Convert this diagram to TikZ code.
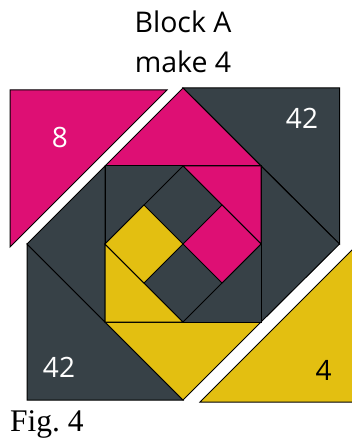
\documentclass[tikz,border=0pt]{standalone}
\usepackage{fontspec}
\setmainfont{Open Sans}
\newfontfamily\figfont{Liberation Serif}
\definecolor{quiltdark}{HTML}{374147}
\definecolor{quiltpink}{HTML}{DE0F74}
\definecolor{quiltgold}{HTML}{E3BF11}
\tikzset{
  patch/.style={draw=black,line width=1pt,line join=miter},
  dark/.style={patch,fill=quiltdark},
  pink/.style={patch,fill=quiltpink},
  gold/.style={patch,fill=quiltgold},
  title/.style={font=\fontsize{28.5}{28.5}\selectfont,text=black,inner sep=0pt,anchor=base},
  count/.style={font=\fontsize{28}{28}\selectfont,inner sep=0pt,anchor=base},
}
\begin{document}
\begin{tikzpicture}[x=1pt,y=-1pt]
\useasboundingbox (0,0) rectangle (352,438);
\clip (0,0) rectangle (352,438);
% loose corner triangles
\draw[pink] (10,90) -- (167,90) -- (10,247) -- cycle;
\draw[gold] (200,402) -- (358,402) -- (358,244) -- cycle;
% large corners
\draw[dark] (183,88) -- (339.5,88) -- (339.5,244) -- cycle;
\draw[dark] (27,244) -- (27,400) -- (183,400) -- cycle;
% side triangles
\draw[dark] (27,244) -- (105,166) -- (105,322) -- cycle;
\draw[dark] (339.5,244) -- (261,322) -- (261,166) -- cycle;
\draw[pink] (105,166) -- (183,88) -- (261,166) -- cycle;
\draw[gold] (105,322) -- (261,322) -- (183,400) -- cycle;
% centre square
\draw[dark] (105,166) rectangle (261,322);
\draw[pink] (183,166) -- (261,166) -- (261,244) -- cycle;
\draw[gold] (105,244) -- (183,322) -- (105,322) -- cycle;
% inner diamond
\draw[dark] (183,166) -- (261,244) -- (183,322) -- (105,244) -- cycle;
\draw[gold] (105,244) -- (144,205) -- (183,244) -- (144,283) -- cycle;
\draw[pink] (183,244) -- (222,205) -- (261,244) -- (222,283) -- cycle;
% labels
\node[title] (titleA) at (183,33) {Block A};
\node[title] (titleB) at (183,72.5) {make 4};
\node[count,text=white] (n8) at (60,148) {8};
\node[count,text=white] (n42a) at (302,129) {42};
\node[count,text=white] (n42b) at (59,377) {42};
\node[count,text=black] (n4) at (323.5,380) {4};
\node[inner sep=0pt,anchor=base west,text=black,font=\figfont\fontsize{31.5}{31.5}\selectfont] (fig) at (10,431) {Fig.~4};
\end{tikzpicture}
\end{document}
